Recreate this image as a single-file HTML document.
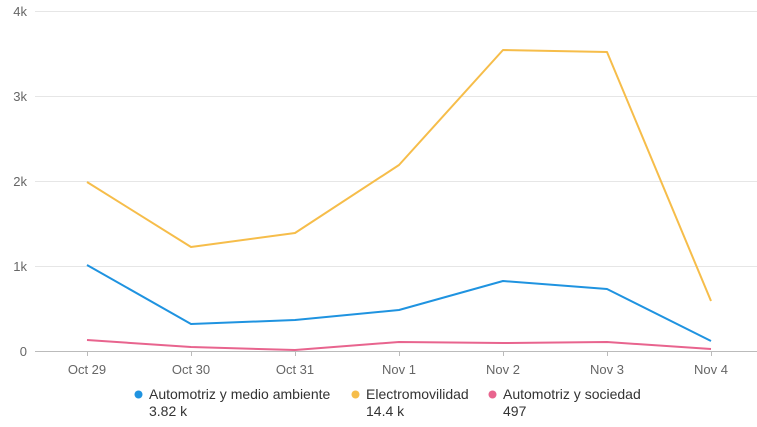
<!DOCTYPE html>
<html><head><style>
body{margin:0;background:#fff;}
svg{display:block;font-family:"Liberation Sans",Arial,sans-serif;}
</style></head><body>
<svg width="757" height="427" xmlns="http://www.w3.org/2000/svg">
<g stroke="#e6e6e6" stroke-width="1">
<line x1="35" y1="11.5" x2="757" y2="11.5"/>
<line x1="35" y1="96.5" x2="757" y2="96.5"/>
<line x1="35" y1="181.5" x2="757" y2="181.5"/>
<line x1="35" y1="266.5" x2="757" y2="266.5"/>
</g>
<line x1="35" y1="351.5" x2="757" y2="351.5" stroke="#bbb" stroke-width="1"/>
<g stroke="#bbb"><line x1="87.5" y1="351" x2="87.5" y2="356"/><line x1="191.5" y1="351" x2="191.5" y2="356"/><line x1="295.5" y1="351" x2="295.5" y2="356"/><line x1="399.5" y1="351" x2="399.5" y2="356"/><line x1="503.5" y1="351" x2="503.5" y2="356"/><line x1="607.5" y1="351" x2="607.5" y2="356"/><line x1="711.5" y1="351" x2="711.5" y2="356"/></g>
<g fill="#666" font-size="13" text-anchor="end">
<text x="27" y="16">4k</text><text x="27" y="101">3k</text><text x="27" y="186">2k</text><text x="27" y="271">1k</text><text x="27" y="356">0</text>
</g>
<g fill="#666" font-size="13" text-anchor="middle">
<text x="87" y="374">Oct 29</text><text x="191" y="374">Oct 30</text><text x="295" y="374">Oct 31</text><text x="399" y="374">Nov 1</text><text x="503" y="374">Nov 2</text><text x="607" y="374">Nov 3</text><text x="711" y="374">Nov 4</text>
</g>
<g fill="none" stroke-width="2" stroke-linejoin="round">
<polyline stroke="#f6bd4a" points="87,182 191,247 295,233 399,165 503,50 607,52 711,301"/>
<polyline stroke="#1f93e0" points="87,265 191,324 295,320 399,310 503,281 607,289 711,341"/>
<polyline stroke="#e8648e" points="87,340 191,347 295,350 399,342 503,343 607,342 711,349"/>
</g>
<g font-size="14" fill="#333">
<circle cx="138.5" cy="394.5" r="4" fill="#1f93e0"/>
<text x="149" y="399">Automotriz y medio ambiente</text><text x="149" y="416">3.82 k</text>
<circle cx="355.5" cy="394.5" r="4" fill="#f6bd4a"/>
<text x="366" y="399">Electromovilidad</text><text x="366" y="416">14.4 k</text>
<circle cx="492.5" cy="394.5" r="4" fill="#e8648e"/>
<text x="503" y="399">Automotriz y sociedad</text><text x="503" y="416">497</text>
</g>
</svg>
</body></html>
